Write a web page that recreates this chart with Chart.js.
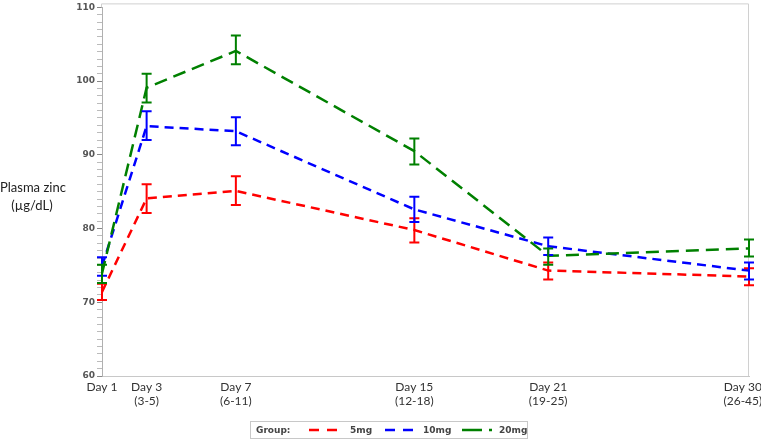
<!DOCTYPE html>
<html>
<head>
<meta charset="utf-8">
<script src="https://cdn.jsdelivr.net/npm/chart.js@4/dist/chart.umd.min.js"></script>
<style>
  body { margin: 0; background: #fff; }
  #wrap { position: relative; width: 761px; height: 442px; }
  #ytitle {
    position: absolute; left: 0; top: 178px; width: 64px; white-space: nowrap;
    font: 13px Lato, sans-serif; color: #222; text-align: center; line-height: 18px;
  }
  #legend {
    position: absolute; left: 250px; top: 421px; width: 278px; height: 18px;
    border: 1px solid #c8c8c8; box-sizing: border-box;
    font: bold 9px "DejaVu Sans", sans-serif; color: #444;
  }
  #legend span { position: absolute; top: 3px; }
  #legend svg { position: absolute; top: 6px; }
</style>
</head>
<body>
<div id="wrap">
  <canvas id="zinc" width="761" height="442"></canvas>
  <div id="ytitle">Plasma zinc<br>(µg/dL)</div>
  <div id="legend">
    <span style="left:5px">Group:</span>
    <svg style="left:58px" width="32" height="4"><line x1="0" y1="2" x2="32" y2="2" stroke="rgb(255,0,0)" stroke-width="2.5" stroke-dasharray="10,8"/></svg>
    <span style="left:99px">5mg</span>
    <svg style="left:134px" width="32" height="4"><line x1="0" y1="2" x2="32" y2="2" stroke="rgb(0,0,255)" stroke-width="2.5" stroke-dasharray="10,8"/></svg>
    <span style="left:172px">10mg</span>
    <svg style="left:211px" width="32" height="4"><line x1="0" y1="2" x2="32" y2="2" stroke="rgb(0,128,0)" stroke-width="2.5" stroke-dasharray="20,7,3,7"/></svg>
    <span style="left:248px">20mg</span>
  </div>
</div>
<script>
// study days (x positions) and their tick labels
const days = [1, 3, 7, 15, 21, 30]
const dayLabels = [
  ['Day 1'],
  ['Day 3', '(3-5)'],
  ['Day 7', '(6-11)'],
  ['Day 15', '(12-18)'],
  ['Day 21', '(19-25)'],
  ['Day 30    ', '(26-45)    ']   // padded so the last label sits inside the window
]

// mean plasma zinc per group
const zinc5 = [71.4, 84.1, 85.1, 79.8, 74.3, 73.5]
const zinc10 = [74.9, 93.9, 93.2, 82.6, 77.6, 74.3]
const zinc20 = [73.9, 99.1, 104.1, 90.5, 76.3, 77.3]

// error bar limits
const low5 = [70.3, 82.1, 83.2, 78.1, 73.1, 72.3]
const high5 = [72.5, 86.0, 87.1, 81.4, 75.4, 74.6]
const low10 = [73.6, 92.0, 91.3, 80.9, 76.4, 73.1]
const high10 = [76.1, 95.9, 95.1, 84.3, 78.8, 75.4]
const low20 = [72.6, 97.1, 102.3, 88.7, 75.1, 76.2]
const high20 = [75.1, 101.0, 106.2, 92.2, 77.3, 78.5]

function points(vals) {
  return days.map(function(d, i){ return {x: d, y: vals[i]} })
}

const errorBars = {
  id: 'errorBars',
  afterDatasetsDraw: function(chart) {
    const ctx = chart.ctx
    const xs = chart.scales.x
    const ys = chart.scales.y
    const area = chart.chartArea

    // light frame round the plot
    ctx.save()
    ctx.strokeStyle = '#d0d0d0'
    ctx.lineWidth = 1
    ctx.beginPath()
    ctx.moveTo(area.left - 0.5, area.top)
    ctx.lineTo(area.left - 0.5, area.top - 3.5)
    ctx.lineTo(area.right - 0.5, area.top - 3.5)
    ctx.lineTo(area.right - 0.5, area.bottom)
    ctx.stroke()
    ctx.restore()

    chart.data.datasets.forEach(function(ds){
      ctx.save()
      ctx.strokeStyle = ds.borderColor
      ctx.lineWidth = 2
      ds.low.forEach(function(lo, i){
        const x = xs.getPixelForValue(days[i])
        const y1 = ys.getPixelForValue(lo)
        const y2 = ys.getPixelForValue(ds.high[i])
        ctx.beginPath()
        ctx.moveTo(x, y1); ctx.lineTo(x, y2)
        ctx.moveTo(x - 5, y1); ctx.lineTo(x + 5, y1)
        ctx.moveTo(x - 5, y2); ctx.lineTo(x + 5, y2)
        ctx.stroke()
      })
      ctx.restore()
    })
  }
}

new Chart(document.getElementById('zinc'), {
  type: 'line',
  data: {
    datasets: [{
      label: '5mg',
      data: points(zinc5),
      low: low5, high: high5,
      borderColor: 'rgb(255,0,0)',
      borderDash: [9, 6],
      order: 2
    }, {
      label: '10mg',
      data: points(zinc10),
      low: low10, high: high10,
      borderColor: 'rgb(0,0,255)',
      borderDash: [9, 6],
      order: 1
    }, {
      label: '20mg',
      data: points(zinc20),
      low: low20, high: high20,
      borderColor: 'rgb(0,128,0)',
      borderDash: [13, 7],
      order: 0
    }]
  },
  options: {
    responsive: false,
    animation: false,
    elements: {
      line: { borderWidth: 2.5, tension: 0, fill: false },
      point: { radius: 0 }
    },
    layout: { padding: { top: 4, right: 12, left: 0, bottom: 0 } },
    plugins: {
      legend: { display: false },
      tooltip: { enabled: false }
    },
    scales: {
      x: {
        type: 'linear',
        min: 1,
        max: 30,
        afterBuildTicks: function(axis){
          axis.ticks = days.map(function(d){ return {value: d} })
        },
        afterFit: function(axis){
          axis.height = 66
          axis.paddingLeft = 0
          axis.paddingRight = 0
        },
        ticks: {
          autoSkip: false,
          maxRotation: 0,
          padding: 4,
          color: '#333',
          font: { family: 'Lato', size: 12 },
          callback: function(value){ return dayLabels[days.indexOf(value)] }
        },
        grid: { drawOnChartArea: false, drawTicks: false },
        border: { color: '#c8c8c8' }
      },
      y: {
        min: 60,
        max: 110,
        afterFit: function(axis){ axis.width = 102 },
        ticks: {
          stepSize: 1,
          autoSkip: false,
          padding: 2,
          color: '#555',
          font: { family: 'DejaVu Sans', size: 9, weight: 'bold' },
          callback: function(value){ return value % 10 === 0 ? value : '' }
        },
        grid: {
          drawOnChartArea: false,
          tickLength: 5,
          tickColor: function(c){ return c.tick && c.tick.value % 10 === 0 ? '#888' : '#bbb' }
        },
        border: { color: '#b0b0b0' }
      }
    }
  },
  plugins: [errorBars]
})
</script>
</body>
</html>
